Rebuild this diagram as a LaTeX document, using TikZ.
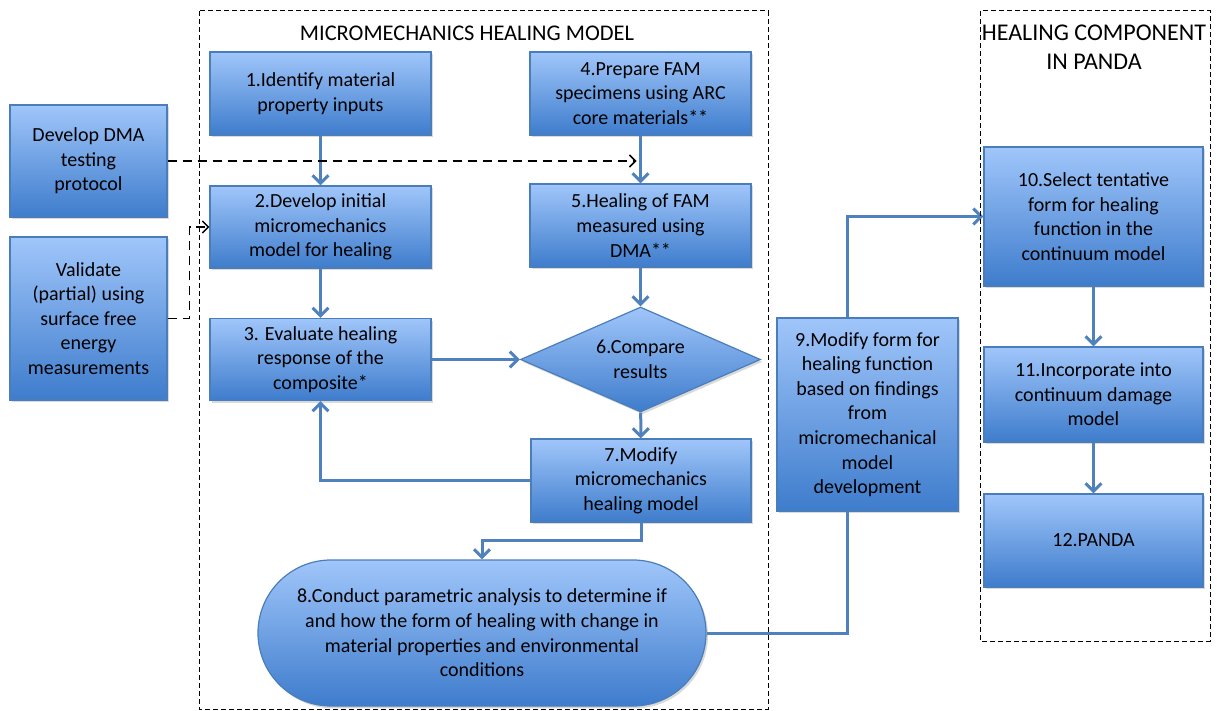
\documentclass[tikz,border=0pt]{standalone}
\usepackage{fontspec}
\setmainfont{Carlito}
\usetikzlibrary{shapes.geometric, shapes.misc, arrows.meta, shadows, backgrounds}
\definecolor{boxTop}{RGB}{160,198,250}
\definecolor{boxBot}{RGB}{62,124,204}
\definecolor{boxLine}{RGB}{74,126,187}
\definecolor{flowLine}{RGB}{79,129,189}

\begin{document}
\begin{tikzpicture}[x=0.5pt, y=-0.5pt,
    nodeBox/.style={rectangle, draw=boxLine, line width=0.6pt, top color=boxTop, bottom color=boxBot, drop shadow={opacity=0.3, shadow xshift=1pt, shadow yshift=-1.2pt}, align=center, inner sep=2pt, font=\fontsize{10}{12.3}\selectfont},
    nodeDia/.style={nodeBox, diamond, aspect=2.3, inner sep=0pt},
    nodeRound/.style={nodeBox, rounded rectangle},
    frame/.style={draw=black, line width=0.5pt, dash pattern=on 2.5pt off 1.5pt},
    title/.style={align=center, font=\fontsize{12}{14.5}\selectfont},
    flow/.style={draw=flowLine, line width=1.5pt, -{Straight Barb[length=4pt, width=8pt]}},
    hint/.style={draw=black, line width=0.75pt, dash pattern=on 4.5pt off 3pt, -{Straight Barb[length=3pt, width=6pt]}}]

    \useasboundingbox (0,0) rectangle (1217,711);

    % Dashed frames and their titles
    \draw[frame] (199,11) rectangle (768,709);
    \draw[frame] (980,11) rectangle (1210,641);
    \node[title, font=\fontsize{11.2}{14}\selectfont] (tMicro) at (467,33) {MICROMECHANICS HEALING MODEL};
    \node[title] (tPanda) at (1094,47) {HEALING COMPONENT\\IN PANDA};

    % Outside inputs
    \node[nodeBox, minimum width=78.5pt, minimum height=56pt] (dma) at (88.5,161) {Develop DMA\\testing\\protocol};
    \node[nodeBox, minimum width=78.5pt, minimum height=81.5pt] (valid) at (88.5,318.5) {Validate\\(partial) using\\surface free\\energy\\measurements};

    % Left column (model)
    \node[nodeBox, minimum width=110.5pt, minimum height=41.5pt] (b1) at (320.5,93.5) {1.Identify material\\property inputs};
    \node[nodeBox, minimum width=110.5pt, minimum height=41pt] (b2) at (320.5,227) {2.Develop initial\\micromechanics\\model for healing};
    \node[nodeBox, minimum width=110.5pt, minimum height=41pt] (b3) at (320.5,359.5) {3. Evaluate healing\\response of the\\composite*};

    % Right column (tests)
    \node[nodeBox, minimum width=110.5pt, minimum height=41.5pt] (b4) at (640.5,93.5) {4.Prepare FAM\\specimens using ARC\\core materials**};
    \node[nodeBox, minimum width=110.5pt, minimum height=41.5pt] (b5) at (640.5,225.5) {5.Healing of FAM\\measured using\\DMA**};
    \node[nodeDia, minimum width=120pt, minimum height=52.5pt] (b6) at (640.5,359.5) {6.Compare\\results};
    \node[nodeBox, minimum width=110pt, minimum height=41.5pt] (b7) at (641,480.5) {7.Modify\\micromechanics\\healing model};
    \node[nodeRound, minimum width=228pt, minimum height=73pt] (b8) at (482,633) {8.Conduct parametric analysis to determine if\\and how the form of healing with change in\\material properties and environmental\\conditions};

    % PANDA column
    \node[nodeBox, minimum width=109.5pt, minimum height=69.5pt] (b10) at (1093.5,216.5) {10.Select tentative\\form for healing\\function in the\\continuum model};
    \node[nodeBox, minimum width=109.5pt, minimum height=47.5pt] (b11) at (1093.5,394.5) {11.Incorporate into\\continuum damage\\model};
    \node[nodeBox, minimum width=109.5pt, minimum height=46.5pt] (b12) at (1093.5,540.5) {12.PANDA};

    % Link from 8 to 10 runs behind box 9
    \coordinate (via9) at (847,216.5);
    \begin{pgfonlayer}{background}
    \draw[flow] (b8.east) -| (via9) -- (b10.west);
    \end{pgfonlayer}
    \node[nodeBox, minimum width=90.5pt, minimum height=96.5pt] (b9) at (867.5,414.5) {9.Modify form for\\healing function\\based on findings\\from\\micromechanical\\model\\development};

    % Flow arrows
    \draw[flow] (b1) -- (b2);
    \draw[flow] (b2) -- (b3);
    \draw[flow] (b4) -- (b5);
    \draw[flow] (b5) -- (b6);
    \draw[flow] (b3.east) -- (b6.west);
    \draw[flow] (b6) -- (b7);
    \draw[flow] (b7.west) -| (b3.south);
    \coordinate (k8) at (482,541);
    \draw[flow] (b7.south) |- (k8) -- (b8.north);
    \draw[flow] (b10) -- (b11);
    \draw[flow] (b11) -- (b12);

    % Dashed inputs
    \draw[hint, shorten >=2pt] (dma.east) -- (dma.east -| b4.south);
    \draw[hint] (valid.east) -- ++(11pt,0) |- (b2.west);

\end{tikzpicture}
\end{document}
